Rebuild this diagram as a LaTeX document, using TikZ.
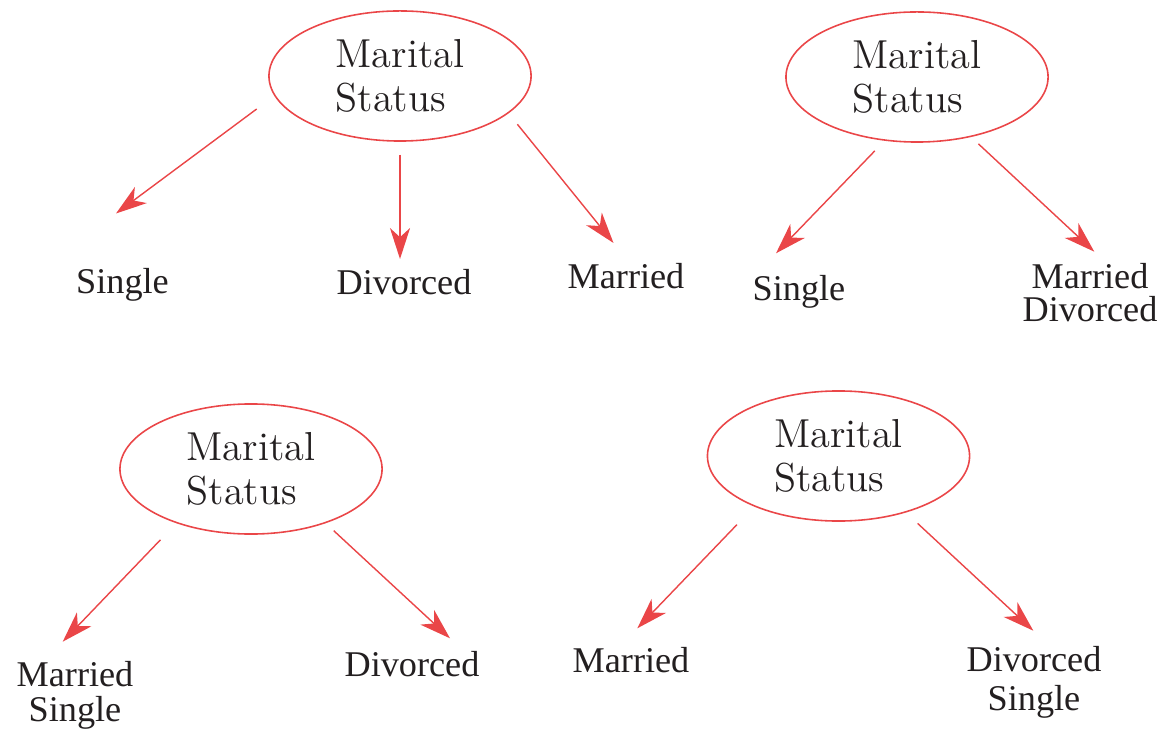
\documentclass[tikz,border=0pt]{standalone}
\usepackage{fontspec}
\usepackage{xcolor}
\usepackage{tikz}
\usetikzlibrary{arrows.meta,shapes.geometric}
\newfontfamily\leaffont{Liberation Serif}
\definecolor{msred}{RGB}{234,70,72}
\definecolor{mstext}{RGB}{35,31,32}

\begin{document}
\begin{tikzpicture}[
x=0.01cm, y=-0.01cm,
msnode/.style={ellipse, draw=msred, line width=0.45pt, minimum width=2.62cm,
minimum height=1.3cm, inner sep=0pt, align=left, text=mstext,
font=\fontsize{11.5}{12.5}\selectfont},
leaf/.style={inner sep=0pt, anchor=north, align=center, text=mstext,
font=\leaffont\fontsize{10.3}{10}\selectfont},
msarrow/.style={-{Stealth[length=8.8pt, width=5.7pt, inset=2.6pt]}, draw=msred,
fill=msred, line width=0.4pt}
]
\useasboundingbox (0,0) rectangle (1165,731);

\node[msnode] (ms1) at (400,76) {Marital\\Status};
\node[msnode] (ms2) at (917,77) {Marital\\Status};
\node[msnode] (ms3) at (251,469) {Marital\\Status};
\node[msnode] (ms4) at (838.5,456) {Marital\\Status};

\node[leaf] (single1) at (122.5,267.3) {Single};
\node[leaf] (divorced1) at (404,268.3) {Divorced};
\node[leaf] (married1) at (626,262.3) {Married};
\node[leaf] (single2) at (799,274.3) {Single};
\node[leaf] (marrdiv2) at (1090,262.3) {Married\\[-0.6pt]Divorced};
\node[leaf] (marrsing3) at (75,660.3) {Married\\Single};
\node[leaf] (divorced3) at (412,650.3) {Divorced};
\node[leaf] (married4) at (631,646.3) {Married};
\node[leaf] (divsing4) at (1034,645.3) {Divorced\\[1.1pt]Single};

\draw[msarrow, shorten <=0.22cm] (ms1.189) -- ([shift={(-6.5,-53.8)}]single1.north);
\draw[msarrow, shorten <=0.13cm] (ms1.270) -- ([shift={(-4,-9.3)}]divorced1.north);
\draw[msarrow, shorten <=0.14cm] (ms1.341) -- ([shift={(-12.5,-19.3)}]married1.north);
\draw[msarrow, shorten <=0.14cm] (ms2.243) -- ([shift={(-23,-21)}]single2.north);
\draw[msarrow, shorten <=0.10cm] (ms2.312) -- ([shift={(4.3,-10.6)}]marrdiv2.north);
\draw[msarrow, shorten <=0.23cm] (ms3.216) -- ([shift={(-12.3,-18.6)}]marrsing3.north);
\draw[msarrow, shorten <=0.11cm] (ms3.324) -- ([shift={(38,-12)}]divorced3.north);
\draw[msarrow, shorten <=0.25cm] (ms4.211) -- ([shift={(6.3,-18)}]married4.north);
\draw[msarrow, shorten <=0.16cm] (ms4.320) -- ([shift={(-0.7,-14.6)}]divsing4.north);
\end{tikzpicture}
\end{document}
